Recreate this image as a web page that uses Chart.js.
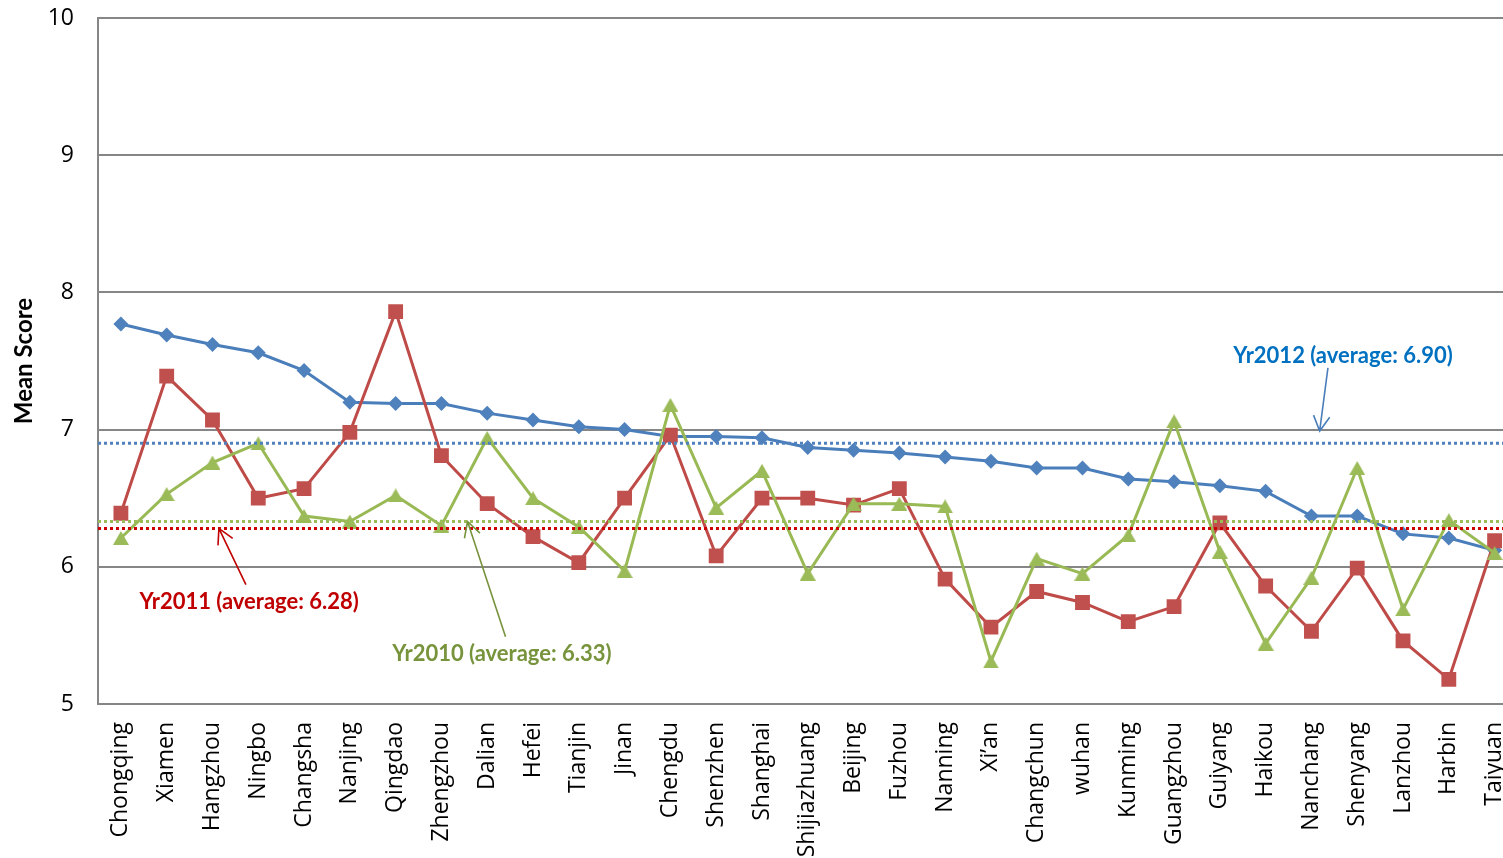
<!DOCTYPE html>
<html>
<head>
<meta charset="utf-8">
<script src="https://cdn.jsdelivr.net/npm/chart.js@4.4.1/dist/chart.umd.min.js"></script>
<style>
  html, body { margin: 0; padding: 0; background: #fff; overflow: hidden; }
  #wrap { width: 1528px; height: 858px; }
</style>
</head>
<body>
<div id="wrap"><canvas id="c" width="1528" height="858"></canvas></div>
<script>
// City categories (ranked by 2012 score)
const cities = ['Chongqing', 'Xiamen', 'Hangzhou', 'Ningbo', 'Changsha', 'Nanjing', 'Qingdao',
  'Zhengzhou', 'Dalian', 'Hefei', 'Tianjin', 'Jinan', 'Chengdu', 'Shenzhen', 'Shanghai',
  'Shijiazhuang', 'Beijing', 'Fuzhou', 'Nanning', 'Xi\u2019an', 'Changchun', 'wuhan', 'Kunming',
  'Guangzhou', 'Guiyang', 'Haikou', 'Nanchang', 'Shenyang', 'Lanzhou', 'Harbin', 'Taiyuan'];

// Mean scores per year
const yr2012 = [7.77, 7.69, 7.62, 7.56, 7.43, 7.20, 7.19, 7.19, 7.12, 7.07, 7.02, 7.00, 6.95, 6.95, 6.94,
  6.87, 6.85, 6.83, 6.80, 6.77, 6.72, 6.72, 6.64, 6.62, 6.59, 6.55, 6.37, 6.37, 6.24, 6.21, 6.12];
const yr2011 = [6.39, 7.39, 7.07, 6.50, 6.57, 6.98, 7.86, 6.81, 6.46, 6.22, 6.03, 6.50, 6.96, 6.08, 6.50,
  6.50, 6.45, 6.57, 5.91, 5.56, 5.82, 5.74, 5.60, 5.71, 6.32, 5.86, 5.53, 5.99, 5.46, 5.18, 6.19];
const yr2010 = [6.21, 6.53, 6.76, 6.90, 6.37, 6.33, 6.52, 6.30, 6.94, 6.50, 6.29, 5.97, 7.18, 6.43, 6.70,
  5.95, 6.46, 6.46, 6.44, 5.31, 6.06, 5.95, 6.23, 7.06, 6.11, 5.44, 5.92, 6.72, 5.69, 6.34, 6.10];

// Yearly averages (drawn as dotted reference lines)
const avg2012 = 6.90;
const avg2011 = 6.28;
const avg2010 = 6.33;

// Y-axis tick values
const yTicks = [5, 6, 7, 8, 9, 10];

// Triangle marker centred on its bounding box
const triangleMarker = (() => {
  const c = document.createElement('canvas');
  c.width = 16; c.height = 14;
  const g = c.getContext('2d');
  g.fillStyle = '#9BBB59';
  g.beginPath();
  g.moveTo(8, 0); g.lineTo(16, 14); g.lineTo(0, 14);
  g.closePath();
  g.fill();
  return c;
})();

// Average lines plus their callout labels and arrows
const averageLines = [
  { value: avg2012, color: '#4F81BD' },
  { value: avg2010, color: '#9BBB59' },
  { value: avg2011, color: '#CC0000' }
];
const callouts = [
  { text: 'Yr2012 (average: ' + avg2012.toFixed(2) + ')', color: '#0070C0', arrow: '#4A7EBB',
    at: [26.69, 7.54], from: [26.36, 7.45], to: [26.18, 6.99] },
  { text: 'Yr2011 (average: ' + avg2011.toFixed(2) + ')', color: '#C00000', arrow: '#C00000',
    at: [2.80, 5.745], from: [2.73, 5.87], to: [2.14, avg2011] },
  { text: 'Yr2010 (average: ' + avg2010.toFixed(2) + ')', color: '#77933C', arrow: '#77933C',
    at: [8.32, 5.365], from: [8.40, 5.49], to: [7.57, avg2010] }
];

const averagePlugin = {
  id: 'averages',
  afterDatasetsDraw(chart) {
    const { ctx, chartArea, scales: { x, y } } = chart;
    ctx.save();
    // dotted average lines
    ctx.lineWidth = 3;
    ctx.lineCap = 'butt';
    ctx.setLineDash([3, 3]);
    averageLines.forEach(l => {
      const py = y.getPixelForValue(l.value);
      ctx.strokeStyle = l.color;
      ctx.beginPath();
      ctx.moveTo(chartArea.left, py);
      ctx.lineTo(chartArea.right, py);
      ctx.stroke();
    });
    ctx.setLineDash([]);
    // arrows
    callouts.forEach(c => {
      const x1 = x.getPixelForValue(c.from[0]), y1 = y.getPixelForValue(c.from[1]);
      const x2 = x.getPixelForValue(c.to[0]), y2 = y.getPixelForValue(c.to[1]);
      ctx.strokeStyle = c.arrow;
      ctx.lineWidth = 1.6;
      ctx.beginPath();
      ctx.moveTo(x1, y1);
      ctx.lineTo(x2, y2);
      const ang = Math.atan2(y2 - y1, x2 - x1);
      const len = 17, spread = 0.5;
      ctx.moveTo(x2 - len * Math.cos(ang - spread), y2 - len * Math.sin(ang - spread));
      ctx.lineTo(x2, y2);
      ctx.lineTo(x2 - len * Math.cos(ang + spread), y2 - len * Math.sin(ang + spread));
      ctx.stroke();
    });
    // labels
    ctx.font = 'bold 22px Lato';
    ctx.textAlign = 'center';
    ctx.textBaseline = 'middle';
    callouts.forEach(c => {
      ctx.fillStyle = c.color;
      ctx.fillText(c.text, x.getPixelForValue(c.at[0]), y.getPixelForValue(c.at[1]));
    });
    ctx.restore();
  }
};

new Chart(document.getElementById('c'), {
  type: 'line',
  data: {
    labels: cities,
    datasets: [
      { label: 'Yr2012', data: yr2012, order: 2, borderColor: '#4A7EBB', backgroundColor: '#4F81BD',
        borderWidth: 3, pointStyle: 'rectRot', pointRadius: 7.5, pointBorderWidth: 0, tension: 0 },
      { label: 'Yr2011', data: yr2011, order: 1, borderColor: '#BE4B48', backgroundColor: '#C0504D',
        borderWidth: 3, pointStyle: 'rect', pointRadius: 10.5, pointBorderWidth: 0, tension: 0 },
      { label: 'Yr2010', data: yr2010, order: 0, borderColor: '#98B954', backgroundColor: '#9BBB59',
        borderWidth: 3, pointStyle: triangleMarker, pointRadius: 8, pointBorderWidth: 0, tension: 0 }
    ]
  },
  options: {
    responsive: false,
    animation: false,
    devicePixelRatio: 1,
    layout: { padding: { left: 0, right: 4, top: 18, bottom: 0 } },
    plugins: { legend: { display: false }, tooltip: { enabled: false } },
    scales: {
      x: {
        offset: true,
        grid: { display: false, drawTicks: false },
        border: { display: true, color: '#868686', width: 2 },
        ticks: { autoSkip: false, minRotation: 90, maxRotation: 90, padding: 18, color: '#000',
          font: { family: 'Open Sans', size: 23 } },
        afterFit(s) { s.height = 154; s.paddingLeft = 0; s.paddingRight = 0; }
      },
      y: {
        min: 5, max: 10,
        afterBuildTicks(s) { s.ticks = yTicks.map(v => ({ value: v })); },
        grid: { color: '#868686', lineWidth: 2, drawTicks: false },
        border: { display: true, color: '#868686', width: 2 },
        ticks: { padding: 24, color: '#000', font: { family: 'Open Sans', size: 23 } },
        title: { display: true, text: 'Mean Score', color: '#000',
          font: { family: 'Lato', size: 24, weight: 'bold' }, padding: { top: 10, bottom: 0 } },
        afterFit(s) { s.width = 98; s.paddingTop = 0; s.paddingBottom = 0; }
      }
    }
  },
  plugins: [averagePlugin]
});
</script>
</body>
</html>
